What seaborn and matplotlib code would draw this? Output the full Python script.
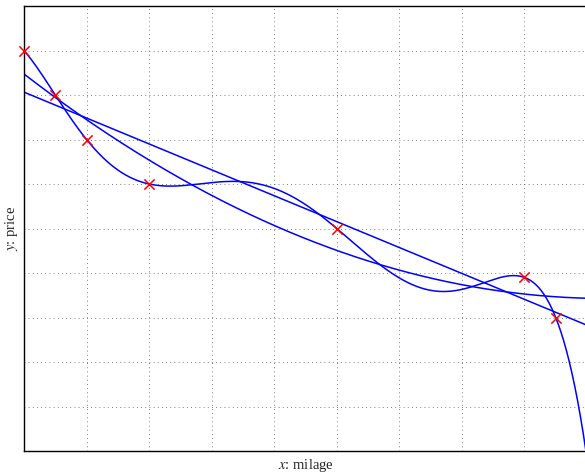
import numpy as np
import pandas as pd
import matplotlib
matplotlib.use("Agg")
import matplotlib.pyplot as plt
import seaborn as sns

# --- Data ---
milage = [0, 0.5, 1, 2, 5, 8, 8.5]
price = [9, 8, 7, 6, 5, 3.9, 3]
fit_degrees = [1, 2, 6]

sns.set_style("white")
plt.rcParams['font.family'] = ['Liberation Serif', 'DejaVu Serif']
plt.rcParams['mathtext.fontset'] = 'stix'

fig = plt.figure(figsize=(5.85, 4.74), dpi=100)
ax = fig.add_axes([24 / 585, 23 / 474, 563 / 585, 445 / 474])

# polynomial fits of increasing degree
xs = np.linspace(0, 9, 600)
frames = []
for deg in fit_degrees:
    coef = np.polyfit(milage, price, deg)
    frames.append(pd.DataFrame({'x': xs, 'y': np.polyval(coef, xs), 'deg': deg}))
fits = pd.concat(frames, ignore_index=True)

sns.lineplot(data=fits, x='x', y='y', units='deg', estimator=None,
             color='#0000ff', linewidth=1.1, ax=ax, legend=False)

pts = pd.DataFrame({'milage': milage, 'price': price})
sns.scatterplot(data=pts, x='milage', y='price', marker='x', color='#ff0000',
                s=55, linewidth=1.1, ax=ax, zorder=5, clip_on=False, legend=False)

ax.set_xlim(0, 9)
ax.set_ylim(0, 10)
ax.set_xticks(np.arange(0, 10, 1))
ax.set_yticks(np.arange(0, 11, 1))
ax.set_xticklabels([])
ax.set_yticklabels([])
ax.tick_params(direction='in', length=3, width=0.8, color='black')
ax.grid(True, linestyle=(0, (1, 4)), color='#555555', linewidth=0.6)
for sp in ax.spines.values():
    sp.set_color('black')
    sp.set_linewidth(1.0)

ax.set_xlabel('$x$: milage', fontsize=10.5, va='center')
ax.set_ylabel('$y$: price', fontsize=10.5, va='center')
ax.xaxis.set_label_coords(0.5, -15 / 445)
ax.yaxis.set_label_coords(-12 / 563, 0.5)

fig.savefig('out.png', dpi=100)
